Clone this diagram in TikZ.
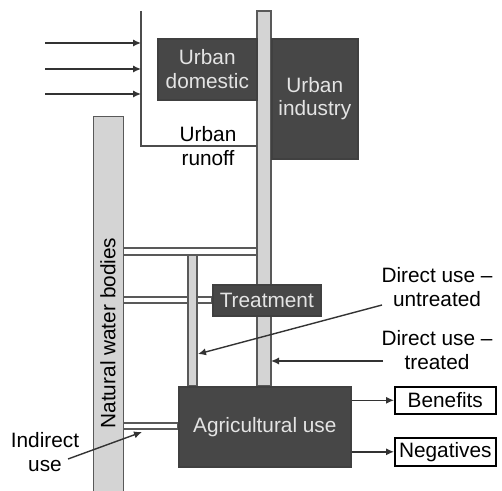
\documentclass[tikz,border=0pt]{standalone}
\usepackage{fontspec}
\setmainfont{Liberation Sans}
\usetikzlibrary{arrows.meta,positioning}
\definecolor{Dark}{HTML}{474747}
\definecolor{Pipe}{HTML}{D4D4D4}
\definecolor{Pale}{HTML}{E4E4E4}
\newcommand{\dfont}{\fontsize{10.4}{11.8}\selectfont}
\tikzset{
 darkbox/.style={draw=black!75,fill=Dark,text=Pale,align=center,font=\dfont,
   inner sep=0pt,line width=0.8pt,anchor=north west},
 outbox/.style={draw=black,fill=white,font=\dfont,inner sep=0pt,line width=0.8pt,anchor=north west},
 pipe/.style={draw=black!65,fill=Pipe,line width=0.7pt},
 tube/.style={pipe,fill=white},
 lbl/.style={align=center,font=\dfont,inner sep=1pt},
 arr/.style={-{Latex[length=4pt,width=3.6pt]},draw=black!80,line width=0.7pt},
 feed/.style={draw=black!70,line width=0.7pt}
}
\begin{document}
\begin{tikzpicture}[x=0.5pt,y=-0.5pt]
\useasboundingbox (0,0) rectangle (502,491);
% pipes
\draw[tube] (123,248) rectangle (258,255);
\draw[tube] (123,297) rectangle (212,303);
\draw[tube] (123,423) rectangle (178,429);
\draw[pipe] (188,255) rectangle (197,386);
\draw[pipe] (257,11) rectangle (271,386);
\node[pipe,anchor=north west,minimum width=15pt,minimum height=190pt,inner sep=0pt] (nat) at (93,116) {};
\node[lbl,rotate=90] (natlbl) at (108,333) {Natural water bodies};
% urban inflows
\coordinate (top) at (141,11);
\coordinate (corner) at (141,146);
\coordinate (joint) at (257,146);
\draw[feed] (top) -- (corner) -- (joint);
\foreach \y [count=\i] in {43,69,94}{
  \coordinate (src\i) at (45,\y);
  \coordinate (hit\i) at (141,\y);
  \draw[arr] (src\i) -- (hit\i);
}
% boxes
\node[darkbox,minimum width=49.5pt,minimum height=30.5pt] (dom) at (157,38) {Urban\\domestic};
\node[darkbox,minimum width=43pt,minimum height=60pt] (ind) at (271,38) {Urban\\industry};
\node[darkbox,minimum width=54pt,minimum height=15.5pt] (treat) at (212,284) {Treatment};
\node[darkbox,minimum width=86pt,minimum height=40pt] (agri) at (178,386) {Agricultural use};
\node[outbox,minimum width=50.5pt,minimum height=13.5pt] (ben) at (394,386) {Benefits};
\node[outbox,minimum width=50.5pt,minimum height=14pt] (neg) at (394,437) {Negatives};
\draw[arr] (agri.east |- ben) -- (ben.west);
\draw[arr] (agri.east |- neg) -- (neg.west);
% labels
\node[lbl] (runoff) at (208,146) {Urban\\runoff};
\node[lbl] (untr) at (437,287) {Direct use --\\untreated};
\node[lbl] (trtd) at (437,350) {Direct use --\\treated};
\node[lbl] (indir) at (45,452) {Indirect\\use};
\coordinate (untrtail) at (382,305);
\coordinate (untrhead) at (198,354);
\coordinate (trtdtail) at (383,361);
\coordinate (trtdhead) at (271,361);
\coordinate (indirtail) at (68,459);
\coordinate (indirhead) at (142,432);
\draw[arr] (untrtail) -- (untrhead);
\draw[arr] (trtdtail) -- (trtdhead);
\draw[arr] (indirtail) -- (indirhead);
\end{tikzpicture}
\end{document}
